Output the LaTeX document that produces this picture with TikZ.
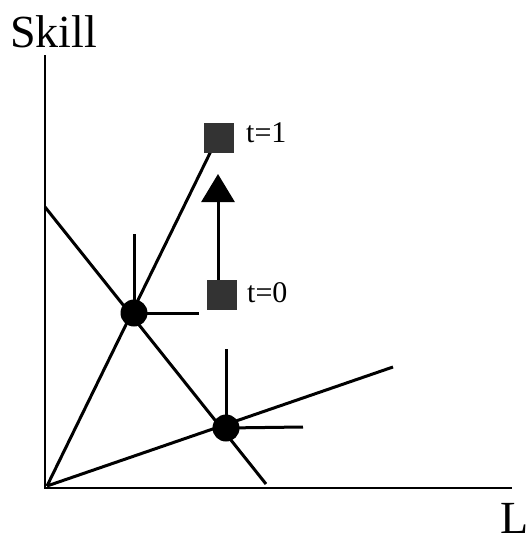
\documentclass[tikz,border=0pt]{standalone}
\usepackage{fontspec}
\setmainfont{Liberation Serif}
\usetikzlibrary{arrows.meta}
\begin{document}
\begin{tikzpicture}[x=1pt,y=-1pt,
  axisline/.style={line width=2.4pt},
  curveline/.style={line width=3pt},
  dotnode/.style={circle,fill=black,inner sep=0pt,minimum size=27pt},
  sqnode/.style={rectangle,fill=black!80,inner sep=0pt,minimum size=30pt},
  lbl/.style={anchor=base west,inner sep=0pt,font=\fontsize{30}{36}\selectfont},
  axlbl/.style={anchor=base west,inner sep=0pt,font=\fontsize{46}{52}\selectfont}]
\useasboundingbox (0,0) rectangle (528,533);
% axes
\coordinate (O) at (45,488);
\coordinate (ytop) at (45,55);
\coordinate (xend) at (512,488);
\draw[axisline] (ytop) -- (O) -- (xend);
\node[axlbl] (skill) at (10,47) {Skill};
\node[axlbl] (L) at (500,533) {L};
% lines
\coordinate (da) at (45,207);
\coordinate (db) at (266,484);
\coordinate (ro) at (47,486);
\coordinate (r1) at (211,151);
\coordinate (r2) at (393,367);
\draw[curveline] (da) -- (db);
\draw[curveline] (ro) -- (r1);
\draw[curveline] (ro) -- (r2);
% dots and spokes
\node[dotnode] (d1) at (134,313) {};
\node[dotnode] (d2) at (226,428) {};
\coordinate (s1v) at (134,234);
\coordinate (s1h) at (199,313);
\coordinate (s2v) at (226,349);
\coordinate (s2h) at (303,427);
\draw[curveline] (d1.center) -- (s1v);
\draw[curveline] (d1.center) -- (s1h);
\draw[curveline] (d2.center) -- (s2v);
\draw[curveline] (d2.center) -- (s2h);
% squares
\node[sqnode] (q1) at (219,138) {};
\node[sqnode] (q0) at (222,295) {};
\node[lbl] (t1) at (246,142) {t=1};
\node[lbl] (t0) at (247,302) {t=0};
\coordinate (atip) at (218,174);
\draw[curveline,-{Triangle[width=33pt,length=28pt]}] (q0.north -| atip) -- (atip);
\end{tikzpicture}
\end{document}
